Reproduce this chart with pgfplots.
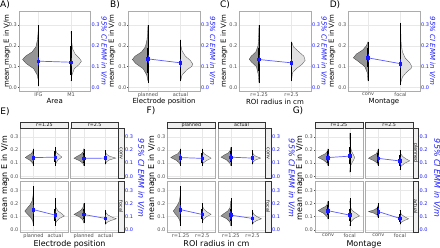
\documentclass[border=0pt]{standalone}
\usepackage{pgfplots}
\pgfplotsset{compat=1.18}
\usepackage{pgfplotstable}
\usepackage{fontspec}
\setmainfont{DejaVu Sans}
\definecolor{myblue}{RGB}{25,25,255}
\definecolor{lineblue}{RGB}{90,90,255}
\definecolor{ticktext}{RGB}{77,77,77}
\definecolor{darkv}{RGB}{150,150,150}
\definecolor{lightv}{RGB}{225,225,225}
\newcommand{\tks}{\fontsize{5}{5.5}\selectfont}
\newcommand{\labA}{\fontsize{7}{8}\selectfont}
\newcommand{\labB}{\fontsize{8}{9}\selectfont}
\newcommand{\pl}{\fontsize{9}{10}\selectfont}
\newcommand{\stf}{\fontsize{4.8}{5}\selectfont}

% ---- top-row violins (half width in category units, y) ----
\pgfplotstableread{
w y
0 0.03
0.04 0.06
0.15 0.09
0.38 0.115
0.49 0.134
0.40 0.15
0.20 0.17
0.08 0.195
0.03 0.23
0.01 0.27
0 0.30
}\tAL
\pgfplotstableread{
w y
0 0.03
0.03 0.06
0.10 0.09
0.25 0.11
0.32 0.126
0.26 0.14
0.13 0.16
0.05 0.185
0.02 0.22
0 0.27
}\tAR
\pgfplotstableread{
w y
0 0.03
0.04 0.06
0.15 0.09
0.38 0.115
0.48 0.134
0.40 0.15
0.20 0.17
0.08 0.195
0.03 0.23
0.01 0.27
0 0.30
}\tBL
\pgfplotstableread{
w y
0 0.03
0.05 0.06
0.20 0.085
0.34 0.10
0.38 0.112
0.30 0.13
0.15 0.15
0.05 0.175
0.01 0.20
0 0.23
}\tBR
\pgfplotstableread{
w y
0 0.02
0.02 0.06
0.08 0.10
0.22 0.12
0.30 0.135
0.24 0.15
0.10 0.17
0.03 0.20
0.01 0.25
0 0.30
}\tCL
\pgfplotstableread{
w y
0 0.03
0.03 0.07
0.15 0.09
0.32 0.11
0.42 0.13
0.38 0.15
0.20 0.175
0.06 0.195
0 0.22
}\tCR
\pgfplotstableread{
w y
0 0.03
0.02 0.07
0.10 0.10
0.30 0.125
0.45 0.142
0.36 0.16
0.16 0.18
0.05 0.20
0 0.22
}\tDL
\pgfplotstableread{
w y
0 0.02
0.06 0.05
0.20 0.075
0.32 0.09
0.35 0.10
0.28 0.12
0.15 0.14
0.06 0.17
0.02 0.21
0.01 0.26
0 0.31
}\tDR
% ---- cell violins (relative width, y) ----
% A planned conv r1.25, B planned conv r2.5, C actual conv r1.25, D actual conv r2.5
% E planned focal r1.25, F planned focal r2.5, G actual focal r1.25, H actual focal r2.5
\pgfplotstableread{
w y
0 0.08
0.10 0.10
0.45 0.122
1 0.142
0.65 0.158
0.27 0.172
0.07 0.19
0 0.21
}\cA
\pgfplotstableread{
w y
0 0.08
0.10 0.10
0.45 0.118
1 0.137
0.65 0.153
0.27 0.168
0.07 0.185
0 0.21
}\cB
\pgfplotstableread{
w y
0 0.08
0.10 0.10
0.45 0.125
1 0.145
0.65 0.162
0.27 0.177
0.07 0.195
0 0.22
}\cC
\pgfplotstableread{
w y
0 0.09
0.10 0.11
0.40 0.125
1 0.138
0.40 0.152
0.10 0.167
0 0.19
}\cD
\pgfplotstableread{
w y
0 0.03
0.10 0.07
0.40 0.10
0.80 0.125
1 0.142
0.75 0.162
0.40 0.19
0.15 0.22
0.05 0.26
0 0.33
}\cE
\pgfplotstableread{
w y
0 0.05
0.10 0.075
0.45 0.098
1 0.117
0.60 0.133
0.28 0.15
0.08 0.17
0 0.20
}\cF
\pgfplotstableread{
w y
0 0.03
0.10 0.06
0.45 0.085
1 0.105
0.70 0.123
0.30 0.143
0.08 0.168
0 0.22
}\cG
\pgfplotstableread{
w y
0 0.04
0.12 0.055
0.50 0.07
1 0.083
0.55 0.098
0.22 0.113
0.06 0.128
0 0.15
}\cH

\pgfplotsset{
 common/.style={scale only axis, anchor=south west,
  xmin=0.4, xmax=2.6, ymin=-0.0175, ymax=0.3675,
  xtick={1,2}, ytick={0,0.1,0.2,0.3},
  grid=major, major grid style={gray!18, line width=0.35pt},
  axis line style={gray!65, line width=0.5pt},
  tick style={gray!60!black, line width=0.35pt}, major tick length=1pt, tick align=outside,
  ytick pos=left, xtick pos=bottom,
  xticklabel style={font=\tks, text=ticktext, inner sep=0.3pt},
  yticklabel style={font=\tks, text=ticktext, inner sep=1pt, /pgf/number format/.cd, fixed, fixed zerofill, precision=1, assume math mode=true},
 },
 toppanel/.style={common, width=71.5pt, height=80pt},
 facet/.style={common, width=47.75pt, height=50.5pt},
 nox/.style={xticklabel=\empty, xtick style={draw=none}},
 noy/.style={yticklabel=\empty, ytick style={draw=none}},
}

\newcommand{\VL}[2]{\addplot[draw=gray!45!black, line width=0.3pt, fill=darkv] table[x expr={1-#1*\thisrow{w}}, y=y] {#2};}
\newcommand{\VR}[2]{\addplot[draw=gray!55!black, line width=0.3pt, fill=lightv] table[x expr={2+#1*\thisrow{w}}, y=y] {#2};}
\newcommand{\ST}[5]{\addplot[black, line width=0.35pt] coordinates {(#1,#2) (#1,#5)};\addplot[black, line width=1.8pt] coordinates {(#1,#3) (#1,#4)};}
\newcommand{\EM}[4]{\addplot[lineblue, line width=0.7pt, mark=square*, mark options={myblue, solid}, mark size=1.3pt, error bars/.cd, y dir=both, y explicit, error bar style={myblue, line width=0.8pt}, error mark options={myblue, mark size=2.2pt, line width=0.8pt}] coordinates {(1,#1) +- (0,#2) (2,#3) +- (0,#4)};}
% strips of the cells
\newcommand{\SA}[1]{\ST{#1}{0.08}{0.10}{0.19}{0.21}}
\newcommand{\SB}[1]{\ST{#1}{0.08}{0.10}{0.18}{0.21}}
\newcommand{\SC}[1]{\ST{#1}{0.08}{0.11}{0.19}{0.22}}
\newcommand{\SD}[1]{\ST{#1}{0.09}{0.11}{0.17}{0.20}}
\newcommand{\SE}[1]{\ST{#1}{0.03}{0.09}{0.22}{0.33}}
\newcommand{\SF}[1]{\ST{#1}{0.05}{0.08}{0.16}{0.20}}
\newcommand{\SG}[1]{\ST{#1}{0.03}{0.07}{0.16}{0.24}}
\newcommand{\SH}[1]{\ST{#1}{0.04}{0.06}{0.12}{0.15}}

\newcommand{\blueaxis}[3]{\begin{axis}[scale only axis, anchor=south east, at={(#1pt,#2pt)}, width=1pt, height=#3pt, xmin=0, xmax=1, ymin=-0.0175, ymax=0.3675, hide x axis, axis y line*=right, y axis line style={draw=none}, ytick={0,0.1,0.2,0.3}, ytick style={draw=none}, yticklabel style={font=\tks, text=myblue, inner sep=1pt, /pgf/number format/.cd, fixed, fixed zerofill, precision=1, assume math mode=true}]
\addplot[draw=none] coordinates {(0.5,0.1)};
\end{axis}}
\newcommand{\facet}[4]{\begin{axis}[facet, at={(#1pt,#2pt)}, #3] #4 \end{axis}}
\tikzset{stripst/.style={fill=gray!12, draw=gray!40!black, line width=0.45pt}}
\newcommand{\strips}[5]{%
 \draw[stripst] (#1,120) rectangle ++(47.75,6);
 \node[font=\stf, text=gray!15!black, inner sep=0] at (#1+23.875,123) {#2};
 \draw[stripst] (#1+50.25,120) rectangle ++(47.75,6);
 \node[font=\stf, text=gray!15!black, inner sep=0] at (#1+74.125,123) {#3};
 \draw[stripst] (#1+98,69.5) rectangle ++(5.5,50.5);
 \node[font=\stf, text=gray!15!black, inner sep=0, rotate=-90] at (#1+100.75,94.75) {#4};
 \draw[stripst] (#1+98,16) rectangle ++(5.5,50.5);
 \node[font=\stf, text=gray!15!black, inner sep=0, rotate=-90] at (#1+100.75,41.25) {#5};
}

\begin{document}
\begin{tikzpicture}[x=1pt,y=1pt]
\path[use as bounding box] (0,0) rectangle (440,248);

% ===== top row =====
\begin{axis}[toppanel, at={(19pt,157pt)}, xticklabels={IFG,M1}]
\VL{1}{\tAL}\VR{1}{\tAR}
\ST{1}{0.005}{0.05}{0.19}{0.30}\ST{2}{0.03}{0.06}{0.20}{0.27}
\EM{0.126}{0.010}{0.121}{0.009}
\end{axis}
\blueaxis{90.5}{157}{80}

\begin{axis}[toppanel, at={(128.5pt,157pt)}, xticklabels={planned,actual}]
\VL{1}{\tBL}\VR{1}{\tBR}
\ST{1}{0.02}{0.07}{0.19}{0.30}\ST{2}{0.03}{0.07}{0.16}{0.23}
\EM{0.137}{0.010}{0.118}{0.008}
\end{axis}
\blueaxis{200}{157}{80}

\begin{axis}[toppanel, at={(239.5pt,157pt)}, xticklabels={{r=1.25},{r=2.5}}]
\VL{1}{\tCL}\VR{1}{\tCR}
\ST{1}{0.02}{0.08}{0.19}{0.30}\ST{2}{0.03}{0.08}{0.16}{0.22}
\EM{0.134}{0.010}{0.118}{0.008}
\end{axis}
\blueaxis{311}{157}{80}

\begin{axis}[toppanel, at={(348.5pt,157pt)}, xticklabels={conv,focal}]
\VL{1}{\tDL}\VR{1}{\tDR}
\ST{1}{0.03}{0.10}{0.19}{0.22}\ST{2}{0.01}{0.05}{0.17}{0.31}
\EM{0.142}{0.010}{0.114}{0.010}
\end{axis}
\blueaxis{420}{157}{80}

% ===== E =====
\facet{20.5}{69.5}{nox}{\VL{0.38}{\cA}\VR{0.30}{\cC}\SA{1}\SC{2}\EM{0.142}{0.012}{0.145}{0.011}}
\facet{70.75}{69.5}{nox,noy}{\VL{0.45}{\cB}\VR{0.48}{\cD}\SB{1}\SD{2}\EM{0.136}{0.011}{0.138}{0.010}}
\facet{20.5}{16}{xticklabels={planned,actual}}{\VL{0.40}{\cE}\VR{0.42}{\cG}\SE{1}\SG{2}\EM{0.153}{0.015}{0.111}{0.011}}
\facet{70.75}{16}{noy,xticklabels={planned,actual}}{\VL{0.45}{\cF}\VR{0.50}{\cH}\SF{1}\SH{2}\EM{0.116}{0.012}{0.086}{0.009}}
\blueaxis{124}{69.5}{50.5}\blueaxis{124}{16}{50.5}
\strips{20.5}{r=1.25}{r=2.5}{conv}{focal}

% ===== F =====
\facet{167.5}{69.5}{nox}{\VL{0.45}{\cA}\VR{0.41}{\cB}\SA{1}\SB{2}\EM{0.142}{0.012}{0.136}{0.011}}
\facet{217.75}{69.5}{nox,noy}{\VL{0.45}{\cC}\VR{0.38}{\cD}\SC{1}\SD{2}\EM{0.145}{0.011}{0.138}{0.010}}
\facet{167.5}{16}{xticklabels={{r=1.25},{r=2.5}}}{\VL{0.33}{\cE}\VR{0.41}{\cF}\SE{1}\SF{2}\EM{0.153}{0.015}{0.116}{0.012}}
\facet{217.75}{16}{noy,xticklabels={{r=1.25},{r=2.5}}}{\VL{0.45}{\cG}\VR{0.41}{\cH}\SG{1}\SH{2}\EM{0.111}{0.011}{0.086}{0.009}}
\blueaxis{271}{69.5}{50.5}\blueaxis{271}{16}{50.5}
\strips{167.5}{planned}{actual}{conv}{focal}

% ===== G =====
\facet{315}{69.5}{nox}{\VL{0.45}{\cA}\VR{0.23}{\cE}\SA{1}\SE{2}\EM{0.142}{0.012}{0.153}{0.015}}
\facet{365.25}{69.5}{nox,noy}{\VL{0.45}{\cB}\VR{0.45}{\cF}\SB{1}\SF{2}\EM{0.136}{0.011}{0.116}{0.012}}
\facet{315}{16}{xticklabels={conv,focal}}{\VL{0.45}{\cC}\VR{0.45}{\cG}\SC{1}\SG{2}\EM{0.145}{0.011}{0.111}{0.011}}
\facet{365.25}{16}{noy,xticklabels={conv,focal}}{\VL{0.45}{\cD}\VR{0.40}{\cH}\SD{1}\SH{2}\EM{0.138}{0.010}{0.086}{0.009}}
\blueaxis{418.5}{69.5}{50.5}\blueaxis{418.5}{16}{50.5}
\strips{315}{r=1.25}{r=2.5}{planned}{actual}

% ===== labels =====
\node[font=\pl] at (5,243.5) {A)};
\node[font=\pl] at (115,243.5) {B)};
\node[font=\pl] at (225,243.5) {C)};
\node[font=\pl] at (335,243.5) {D)};
\node[font=\pl] at (5,136.5) {E)};
\node[font=\pl] at (151,137) {F)};
\node[font=\pl] at (298,137) {G)};

\foreach \xx in {7,112,224,332} {\node[font=\labA, rotate=90] at (\xx,197) {mean magn E in V/m};}
\foreach \xx in {104,212.5,324,432.5} {\node[font=\labA\itshape, text=myblue, rotate=-90] at (\xx,197) {95\% CI EMM in V/m};}
\node[font=\labA] at (54.75,146.5) {Area};
\node[font=\labA] at (164,146.5) {Electrode position};
\node[font=\labA] at (275,146.5) {ROI radius in cm};
\node[font=\labA] at (384,146.5) {Montage};

\foreach \xx in {5,152,300} {\node[font=\labB, rotate=90] at (\xx,70) {mean magn E in V/m};}
\foreach \xx in {141,291.5,437} {\node[font=\labB\itshape, text=myblue, rotate=-90] at (\xx,70) {95\% CI EMM in V/m};}
\node[font=\labB] at (69.5,4) {Electrode position};
\node[font=\labB] at (216.5,4) {ROI radius in cm};
\node[font=\labB] at (364,4) {Montage};
\end{tikzpicture}
\end{document}
